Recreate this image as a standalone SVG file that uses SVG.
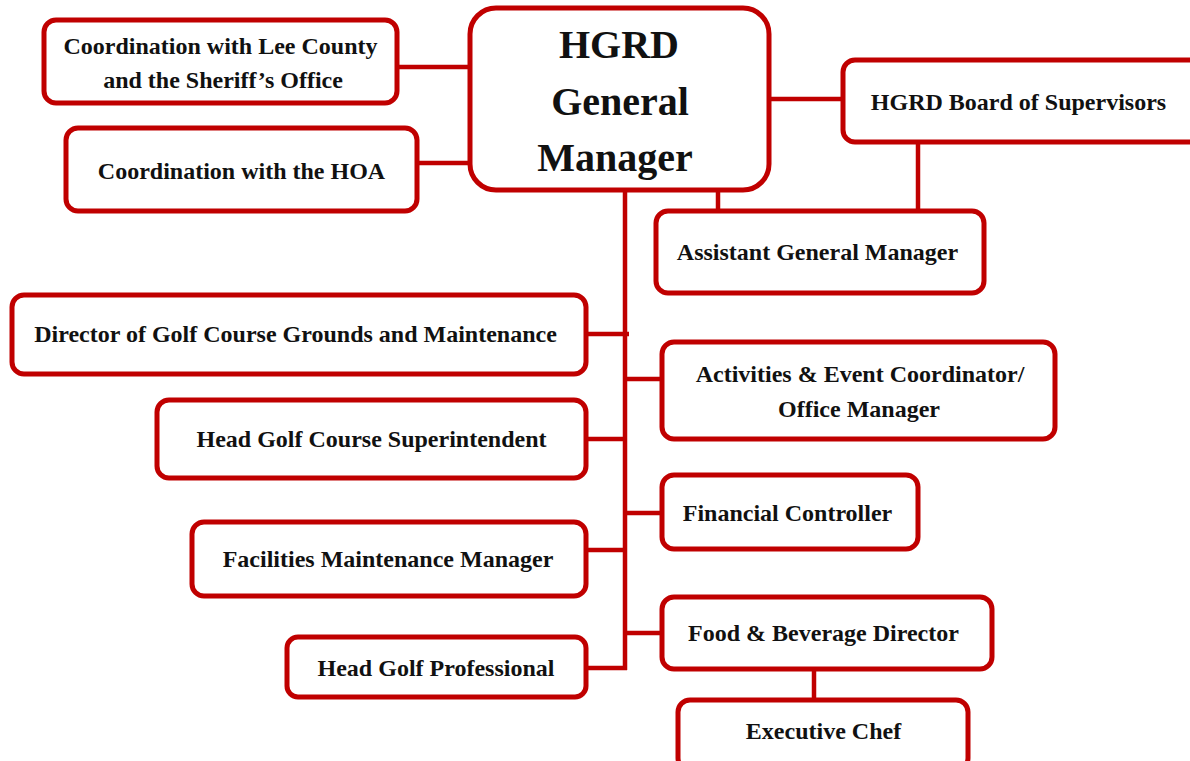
<svg xmlns="http://www.w3.org/2000/svg" width="1190" height="761" viewBox="0 0 1190 761">
  <style>
    .box { fill: #ffffff; stroke: #c00000; stroke-width: 5; }
    .link { stroke: #c00000; stroke-width: 4.5; fill: none; }
    .lbl { font-family: "Liberation Serif", "Times New Roman", serif; font-weight: bold; font-size: 24px; fill: #111111; text-anchor: middle; }
    .big { font-family: "Liberation Serif", "Times New Roman", serif; font-weight: bold; font-size: 40px; fill: #111111; text-anchor: middle; }
  </style>
  <rect width="1190" height="761" fill="#ffffff"/>

  <!-- connectors -->
  <g id="connectors">
    <line class="link" x1="398" y1="67" x2="470" y2="67"/>
    <line class="link" x1="418" y1="163" x2="470" y2="163"/>
    <line class="link" x1="770" y1="99" x2="843" y2="99"/>
    <line class="link" x1="918" y1="143" x2="918" y2="211"/>
    <line class="link" x1="718" y1="190" x2="718" y2="211"/>
    <line class="link" x1="625" y1="190" x2="625" y2="670"/>
    <line class="link" x1="586" y1="334" x2="629" y2="334"/>
    <line class="link" x1="625" y1="379" x2="662" y2="379"/>
    <line class="link" x1="586" y1="439" x2="625" y2="439"/>
    <line class="link" x1="625" y1="513" x2="662" y2="513"/>
    <line class="link" x1="586" y1="550" x2="625" y2="550"/>
    <line class="link" x1="625" y1="633" x2="662" y2="633"/>
    <line class="link" x1="586" y1="668" x2="627" y2="668"/>
    <line class="link" x1="814" y1="669" x2="814" y2="700"/>
  </g>

  <g id="lee-county">
    <rect class="box" x="44" y="20" width="353" height="83" rx="12"/>
    <text class="lbl" x="220.5" y="54">Coordination with Lee County</text>
    <text class="lbl" x="223" y="88">and the Sheriff’s Office</text>
  </g>

  <g id="hoa">
    <rect class="box" x="66" y="128" width="351" height="83" rx="12"/>
    <text class="lbl" x="241.5" y="179">Coordination with the HOA</text>
  </g>

  <g id="general-manager">
    <rect class="box" x="470" y="8" width="299" height="182" rx="26"/>
    <text class="big" x="619" y="58">HGRD</text>
    <text class="big" x="620" y="115">General</text>
    <text class="big" x="615" y="171">Manager</text>
  </g>

  <g id="board">
    <rect class="box" x="843" y="60" width="360" height="82" rx="12"/>
    <text class="lbl" x="1018.5" y="110">HGRD Board of Supervisors</text>
  </g>

  <g id="assistant-gm">
    <rect class="box" x="656" y="211" width="328" height="82" rx="12"/>
    <text class="lbl" x="817.5" y="260">Assistant General Manager</text>
  </g>

  <g id="director-grounds">
    <rect class="box" x="12" y="295" width="574" height="79" rx="12"/>
    <text class="lbl" x="295.5" y="342">Director of Golf Course Grounds and Maintenance</text>
  </g>

  <g id="activities">
    <rect class="box" x="662" y="342" width="393" height="97" rx="12"/>
    <text class="lbl" x="860" y="382">Activities &amp; Event Coordinator/</text>
    <text class="lbl" x="859" y="417">Office Manager</text>
  </g>

  <g id="superintendent">
    <rect class="box" x="157" y="400" width="429" height="78" rx="12"/>
    <text class="lbl" x="371.5" y="447">Head Golf Course Superintendent</text>
  </g>

  <g id="financial">
    <rect class="box" x="662" y="475" width="256" height="74" rx="12"/>
    <text class="lbl" x="787.5" y="521">Financial Controller</text>
  </g>

  <g id="facilities">
    <rect class="box" x="192" y="522" width="394" height="74" rx="12"/>
    <text class="lbl" x="388" y="567">Facilities Maintenance Manager</text>
  </g>

  <g id="food-beverage">
    <rect class="box" x="662" y="597" width="330" height="72" rx="12"/>
    <text class="lbl" x="823.5" y="641">Food &amp; Beverage Director</text>
  </g>

  <g id="golf-pro">
    <rect class="box" x="287" y="637" width="299" height="60" rx="11"/>
    <text class="lbl" x="436" y="676">Head Golf Professional</text>
  </g>

  <g id="executive-chef">
    <rect class="box" x="678" y="700" width="290" height="70" rx="12"/>
    <text class="lbl" x="823.5" y="739">Executive Chef</text>
  </g>
</svg>
